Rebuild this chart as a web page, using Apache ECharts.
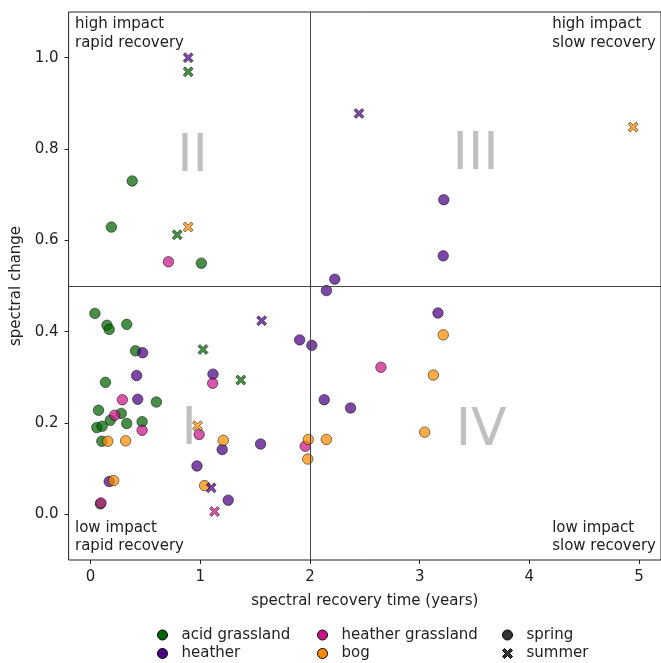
<!DOCTYPE html>
<html>
<head>
<meta charset="utf-8">
<script src="https://cdn.jsdelivr.net/npm/echarts@6/dist/echarts.min.js"></script>
<style>
html,body{margin:0;padding:0;background:#fff;}
#chart{width:661px;height:663px;}
</style>
</head>
<body>
<div id="chart"></div>
<script>
// ---- data ----
const vegetation = ['acid grassland', 'heather', 'heather grassland', 'bog'];
const seasons = ['spring', 'summer'];
const xTicks = [0, 1, 2, 3, 4, 5];
const yTicks = [0.0, 0.2, 0.4, 0.6, 0.8, 1.0];

const acidSpringX = [0.04, 0.15, 0.17, 0.33, 0.41, 0.136, 0.60, 0.073, 0.28, 0.18, 0.33, 0.47, 0.057, 0.106, 0.103, 0.38, 0.19, 1.01, 0.09];
const acidSpringY = [0.44, 0.414, 0.405, 0.416, 0.358, 0.289, 0.246, 0.228, 0.221, 0.206, 0.199, 0.203, 0.19, 0.193, 0.16, 0.73, 0.629, 0.55, 0.023];
const acidSummerX = [0.89, 0.79, 1.025, 1.37];
const acidSummerY = [0.969, 0.612, 0.361, 0.294];

const heatherSpringX = [0.475, 0.42, 0.43, 0.17, 1.116, 1.20, 1.55, 0.97, 1.255, 3.215, 2.226, 2.15, 3.167, 1.906, 2.017, 2.13, 2.37, 3.22];
const heatherSpringY = [0.354, 0.304, 0.252, 0.072, 0.307, 0.142, 0.154, 0.106, 0.031, 0.566, 0.515, 0.49, 0.441, 0.382, 0.37, 0.251, 0.233, 0.689];
const heatherSummerX = [0.89, 1.56, 1.10, 2.447];
const heatherSummerY = [1.0, 0.424, 0.058, 0.878];

const hgSpringX = [0.29, 0.22, 0.47, 0.095, 1.113, 0.99, 0.71, 2.647, 1.957];
const hgSpringY = [0.251, 0.217, 0.184, 0.025, 0.287, 0.175, 0.553, 0.322, 0.149];
const hgSummerX = [1.13];
const hgSummerY = [0.006];

const bogSpringX = [0.157, 0.32, 0.21, 1.21, 1.04, 3.215, 3.125, 3.046, 1.985, 2.15, 1.98];
const bogSpringY = [0.16, 0.161, 0.074, 0.162, 0.063, 0.393, 0.305, 0.18, 0.164, 0.164, 0.121];
const bogSummerX = [0.975, 0.89, 4.946];
const bogSummerY = [0.194, 0.629, 0.848];

const thresholdX = 2;
const thresholdY = 0.5;

const quadrantNumerals = ['I', 'II', 'III', 'IV'];
const numeralX = [0.9, 0.93, 3.51, 3.56];
const numeralY = [0.183, 0.781, 0.786, 0.182];

// ---- styles ----
const vegColors = {
  'acid grassland': '#006400',
  'heather': '#4b0082',
  'heather grassland': '#c71585',
  'bog': '#ff8c00'
};
const X_PATH = 'path://M-1,-0.6 L-0.6,-1 L0,-0.4 L0.6,-1 L1,-0.6 L0.4,0 L1,0.6 L0.6,1 L0,0.4 L-0.6,1 L-1,0.6 L-0.4,0 Z';
const FONT = 'DejaVu Sans';
const FS = 15;
const TXT = '#222';

function pairs(xs, ys) { return xs.map((x, i) => [x, ys[i]]); }

const groups = [
  ['acid grassland', 'spring', acidSpringX, acidSpringY],
  ['heather', 'spring', heatherSpringX, heatherSpringY],
  ['heather grassland', 'spring', hgSpringX, hgSpringY],
  ['bog', 'spring', bogSpringX, bogSpringY],
  ['acid grassland', 'summer', acidSummerX, acidSummerY],
  ['heather', 'summer', heatherSummerX, heatherSummerY],
  ['heather grassland', 'summer', hgSummerX, hgSummerY],
  ['bog', 'summer', bogSummerX, bogSummerY]
];

const series = [];
// quadrant numerals (label only) + threshold lines
series.push({
  type: 'scatter', name: '_numerals', silent: true, z: 1,
  symbolSize: 1,
  itemStyle: { color: 'transparent', borderWidth: 0 },
  label: {
    show: true, position: 'inside',
    formatter: p => quadrantNumerals[p.dataIndex],
    fontFamily: FONT, fontSize: 52, color: '#b0b0b0'
  },
  data: pairs(numeralX, numeralY),
  markLine: {
    silent: true, symbol: 'none', animation: false,
    label: { show: false },
    lineStyle: { color: '#444', width: 1, type: 'solid' },
    data: [{ xAxis: thresholdX }, { yAxis: thresholdY }]
  }
});

groups.forEach(([veg, season, xs, ys]) => {
  series.push({
    type: 'scatter', name: veg, z: 3,
    symbol: season === 'spring' ? 'circle' : X_PATH,
    symbolSize: season === 'spring' ? 10.5 : 10,
    itemStyle: { color: vegColors[veg], opacity: 0.72, borderColor: '#000', borderWidth: 0.7 },
    data: pairs(xs, ys)
  });
});
// legend-only entries for the seasons
series.push({ type: 'scatter', name: 'spring', data: [], itemStyle: { color: '#333' } });
series.push({ type: 'scatter', name: 'summer', data: [], itemStyle: { color: '#333' } });

function legendItem(name, icon, color) {
  return { name, icon, itemStyle: { color, opacity: 1, borderColor: '#000', borderWidth: 1 } };
}
const legendCommon = {
  orient: 'vertical', top: 627, height: 60, itemWidth: 24, itemHeight: 10, itemGap: 2.5,
  padding: 0,
  selectedMode: false,
  textStyle: { fontFamily: FONT, fontSize: FS, color: TXT, lineHeight: 16, padding: [0, 0, 0, 2] }
};

const option = {
  animation: false,
  backgroundColor: '#fff',
  grid: { left: 68.6, top: 12, width: 595.4, height: 548, show: true, borderColor: '#222', borderWidth: 1, backgroundColor: 'transparent' },
  xAxis: {
    type: 'value', min: -0.2, max: 5.2,
    name: 'spectral recovery time (years)', nameLocation: 'middle', nameGap: 34,
    nameTextStyle: { fontFamily: FONT, fontSize: FS, color: TXT },
    axisLine: { show: false, onZero: false },
    axisTick: { show: true, inside: false, length: 4, customValues: xTicks, lineStyle: { color: '#222' } },
    axisLabel: { customValues: xTicks, fontFamily: FONT, fontSize: FS, color: TXT, margin: 10, formatter: v => String(v) },
    splitLine: { show: false }
  },
  yAxis: {
    type: 'value', min: -0.1, max: 1.1,
    name: 'spectral change', nameLocation: 'middle', nameGap: 41, nameRotate: 90,
    nameTextStyle: { fontFamily: FONT, fontSize: FS, color: TXT },
    axisLine: { show: false, onZero: false },
    axisTick: { show: true, inside: false, length: 4, customValues: yTicks, lineStyle: { color: '#222' } },
    axisLabel: { customValues: yTicks, fontFamily: FONT, fontSize: FS, color: TXT, margin: 10, formatter: v => v.toFixed(1) },
    splitLine: { show: false }
  },
  legend: [
    Object.assign({}, legendCommon, { left: 157, data: [legendItem('acid grassland', 'circle', vegColors['acid grassland']), legendItem('heather', 'circle', vegColors['heather'])] }),
    Object.assign({}, legendCommon, { left: 317, data: [legendItem('heather grassland', 'circle', vegColors['heather grassland']), legendItem('bog', 'circle', vegColors['bog'])] }),
    Object.assign({}, legendCommon, { left: 502, data: [legendItem('spring', 'circle', '#333'), legendItem('summer', X_PATH, '#333')] })
  ],
  graphic: [
    { type: 'text', left: 75, top: 14.5, style: { text: 'high impact\nrapid recovery', fontFamily: FONT, fontSize: FS, lineHeight: 19, fill: TXT } },
    { type: 'text', right: 5, top: 14.5, style: { text: 'high impact\nslow recovery', fontFamily: FONT, fontSize: FS, lineHeight: 19, fill: TXT, align: 'right' } },
    { type: 'text', left: 75, top: 519, style: { text: 'low impact\nrapid recovery', fontFamily: FONT, fontSize: FS, lineHeight: 18, fill: TXT } },
    { type: 'text', right: 5, top: 519, style: { text: 'low impact\nslow recovery', fontFamily: FONT, fontSize: FS, lineHeight: 18, fill: TXT, align: 'right' } }
  ],
  series
};

const chart = echarts.init(document.getElementById('chart'), null, { renderer: 'canvas' });
chart.setOption(option);
</script>
</body>
</html>
